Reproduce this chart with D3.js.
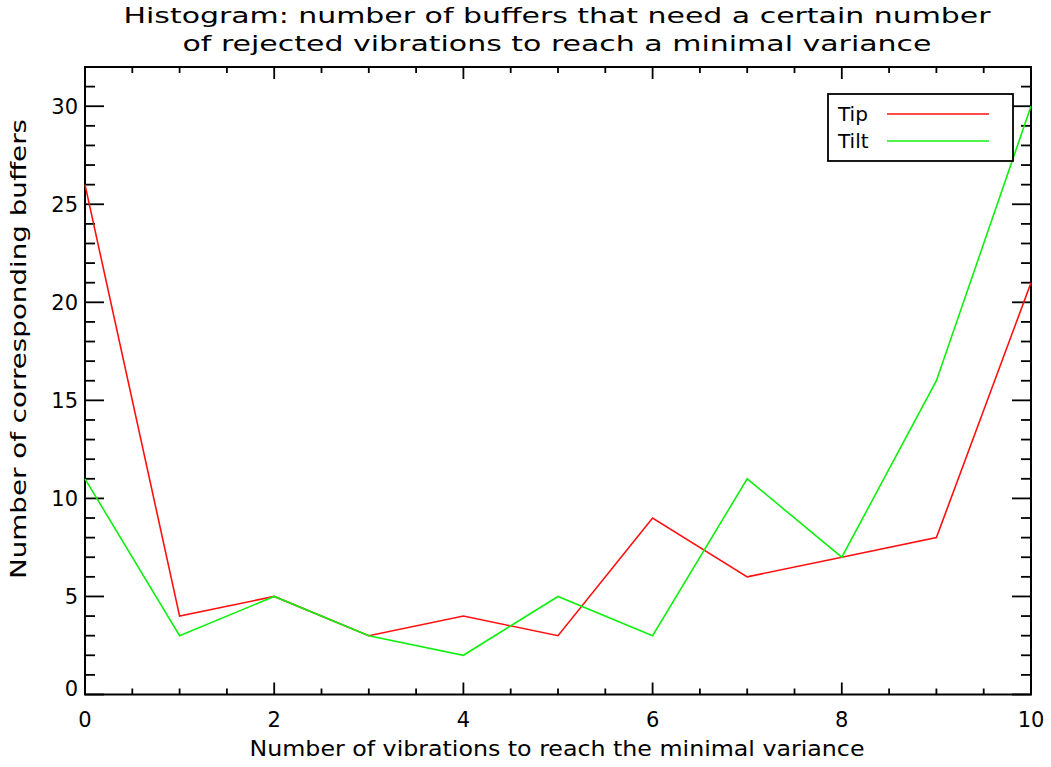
<!DOCTYPE html>
<html><head><meta charset="utf-8">
<script src="https://cdn.jsdelivr.net/npm/d3@7"></script>
<style>body{margin:0;background:#fff}text{font-family:"DejaVu Sans",sans-serif;fill:#000}</style>
</head><body><svg id="c" width="1051" height="767"></svg>
<script>
const xValues = [0,1,2,3,4,5,6,7,8,9,10];
const tipValues = [26,4,5,3,4,3,9,6,7,8,21];
const tiltValues = [11,3,5,3,2,5,3,11,7,16,30];
const xTicks = [0,2,4,6,8,10];
const yTicks = [0,5,10,15,20,25,30];
const seriesNames = ["Tip","Tilt"];
const seriesColors = ["#ff1010","#10f010"];
const titleLines = ["Histogram: number of buffers that need a certain number","of rejected vibrations to reach a minimal variance"];
const xLabel = "Number of vibrations to reach the minimal variance";
const yLabel = "Number of corresponding buffers";

const svg = d3.select("#c");
const L=85,R=1031,T=67,B=694.5;
const x = d3.scaleLinear().domain([0,10]).range([L,R]);
const y = d3.scaleLinear().domain([0,32]).range([B,T]);

// title
const tl=[{t:titleLines[0],y:23,w:867},{t:titleLines[1],y:51,w:749}];
svg.selectAll(".title").data(tl).enter().append("text")
  .attr("x",557).attr("y",d=>d.y).attr("text-anchor","middle")
  .attr("font-size",22).attr("textLength",d=>d.w).attr("lengthAdjust","spacingAndGlyphs")
  .text(d=>d.t);

const g=svg.append("g").attr("stroke","#000").attr("fill","none");
// frame
g.append("rect").attr("x",L).attr("y",T).attr("width",R-L).attr("height",B-T).attr("stroke-width",2);
// x ticks
const xMinor=d3.range(0,10.01,0.5);
xMinor.forEach(v=>{
  const major = xTicks.includes(v);
  const len = major?12:6;
  g.append("line").attr("x1",x(v)).attr("x2",x(v)).attr("y1",B).attr("y2",B-len).attr("stroke-width",1.8);
  g.append("line").attr("x1",x(v)).attr("x2",x(v)).attr("y1",T).attr("y2",T+len).attr("stroke-width",1.8);
});
const yMinor=d3.range(0,32.01,1);
yMinor.forEach(v=>{
  const major = yTicks.includes(v);
  const len = major?19:10;
  g.append("line").attr("y1",y(v)).attr("y2",y(v)).attr("x1",L).attr("x2",L+len).attr("stroke-width",1.8);
  g.append("line").attr("y1",y(v)).attr("y2",y(v)).attr("x1",R).attr("x2",R-len).attr("stroke-width",1.8);
});
// tick labels
svg.selectAll(".xt").data(xTicks).enter().append("text")
  .attr("x",d=>x(d)).attr("y",727).attr("text-anchor","middle").attr("font-size",21).text(d=>d);
svg.selectAll(".yt").data(yTicks).enter().append("text")
  .attr("x",78).attr("y",d=>y(d)+(d===0?1:8)).attr("text-anchor","end").attr("font-size",21).text(d=>d);
// axis labels
svg.append("text").attr("x",557).attr("y",756).attr("text-anchor","middle").attr("font-size",21)
  .attr("textLength",615).attr("lengthAdjust","spacingAndGlyphs").text(xLabel);
svg.append("text").attr("transform","translate(26,349) rotate(-90)").attr("text-anchor","middle").attr("font-size",21)
  .attr("textLength",460).attr("lengthAdjust","spacingAndGlyphs").text(yLabel);

// lines
const line=d3.line().x((d,i)=>x(xValues[i])).y(d=>y(d));
const allSeries=[tipValues,tiltValues];
svg.selectAll(".ser").data(allSeries).enter().append("path")
  .attr("d",d=>line(d)).attr("fill","none").attr("stroke",(d,i)=>seriesColors[i]).attr("stroke-width",1.6);

// legend
const lg=svg.append("g");
lg.append("rect").attr("x",828).attr("y",94).attr("width",185).attr("height",67).attr("fill","#fff").attr("stroke","#000").attr("stroke-width",1.8);
seriesNames.forEach((n,i)=>{
  const yy=114+i*27;
  lg.append("text").attr("x",838).attr("y",yy+7).attr("font-size",20).text(n);
  lg.append("line").attr("x1",887).attr("x2",989).attr("y1",yy).attr("y2",yy).attr("stroke",seriesColors[i]).attr("stroke-width",1.6);
});
</script></body></html>
